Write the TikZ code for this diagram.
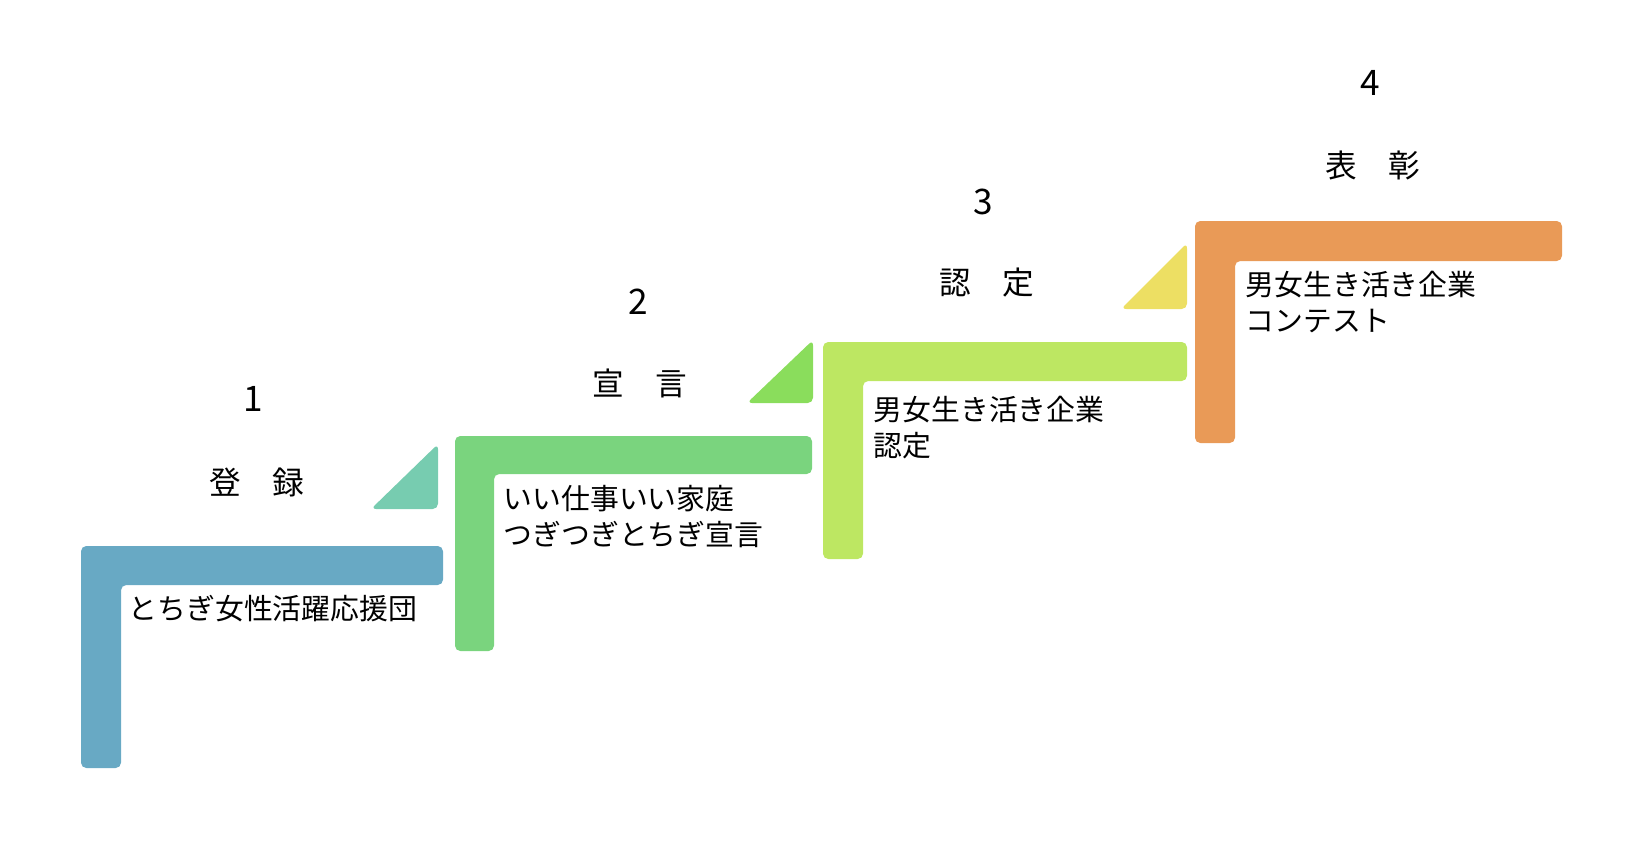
\documentclass[tikz,border=0pt]{standalone}
\usepackage{fontspec}
\setmainfont{Noto Sans CJK JP}
\definecolor{stepblue}{RGB}{104,169,196}
\definecolor{stepgreen}{RGB}{122,212,126}
\definecolor{steplime}{RGB}{189,231,98}
\definecolor{steporange}{RGB}{233,154,87}
\definecolor{triteal}{RGB}{119,204,176}
\definecolor{trigreen}{RGB}{138,221,92}
\definecolor{triyellow}{RGB}{237,223,99}
\tikzset{
  stair/.style={draw=none, rounded corners=1.5pt},
  num/.style={inner sep=0pt, font=\fontsize{10}{12}\selectfont},
  head/.style={inner sep=0pt, font=\fontsize{9}{11}\selectfont},
  desc/.style={anchor=west, align=left, inner sep=0pt, font=\fontsize{8.2}{10.24}\selectfont},
}

\begin{document}
\begin{tikzpicture}[x=0.01cm, y=-0.01cm]
    \useasboundingbox (0,0) rectangle (1644,842);

    % step 1
    \filldraw[stair, fill=stepblue] (81,546) -- (443,546) -- (443,585) -- (121,585) -- (121,768) -- (81,768) -- cycle;
    \filldraw[stair, fill=triteal] (438,444) -- (438,509) -- (371,509) -- cycle;
    \node[num] (n1) at (253,399) {1};
    \node[head] (h1) at (257,482) {登　録};
    \node[desc] (d1) at (128,609) {とちぎ女性活躍応援団};

    % step 2
    \filldraw[stair, fill=stepgreen] (455,436) -- (812,436) -- (812,474) -- (494,474) -- (494,651) -- (455,651) -- cycle;
    \filldraw[stair, fill=trigreen] (813,340) -- (813,403) -- (747,403) -- cycle;
    \node[num] (n2) at (638,302) {2};
    \node[head] (h2) at (640,383) {宣　言};
    \node[desc] (d2) at (503,517) {いい仕事いい家庭\\つぎつぎとちぎ宣言};

    % step 3
    \filldraw[stair, fill=steplime] (823,342) -- (1187,342) -- (1187,381) -- (863,381) -- (863,559) -- (823,559) -- cycle;
    \filldraw[stair, fill=triyellow] (1187,243) -- (1187,309) -- (1121,309) -- cycle;
    \node[num] (n3) at (983,202) {3};
    \node[head] (h3) at (987,283) {認　定};
    \node[desc] (d3) at (873,428) {男女生き活き企業\\認定};

    % step 4
    \filldraw[stair, fill=steporange] (1195,221) -- (1562,221) -- (1562,261) -- (1235,261) -- (1235,443) -- (1195,443) -- cycle;
    \node[num] (n4) at (1370,83) {4};
    \node[head] (h4) at (1373,165) {表　彰};
    \node[desc] (d4) at (1245,302) {男女生き活き企業\\コンテスト};
\end{tikzpicture}
\end{document}
